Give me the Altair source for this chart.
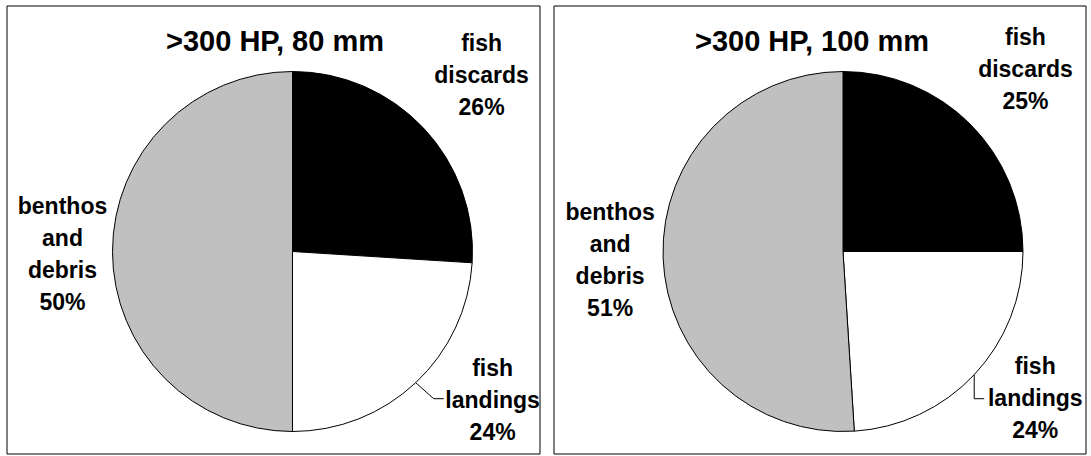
import altair as alt
import pandas as pd

# Catch composition by weight for two cod-end mesh sizes
categories = ["fish discards", "fish landings", "benthos and debris"]
share_80mm = [26, 24, 50]
share_100mm = [25, 24, 51]
label_names = ["fish\ndiscards", "fish\nlandings", "benthos\nand\ndebris"]
panel_titles = [">300 HP, 80 mm", ">300 HP, 100 mm"]
slice_colors = ["#000000", "#ffffff", "#c0c0c0"]

PIE_R = 180
FONT = "Liberation Sans"
LABEL_SIZE = 23
LINE_H = 32
TITLE_SIZE = 29
TOTAL_W = 1079
TOTAL_H = 448

# Per-panel placement: frame, pie centre, title anchor, label radius/nudges, leader elbow
layouts = [
    {
        "frame": (0, 533),
        "center": (285.5, 245.5),
        "title": (268, 36),
        "labels": [(258, 1, 1), (250, 29, -33), (230, 0, 3)],
        "leader": (18, 16, 10),
    },
    {
        "frame": (547, 1079),
        "center": (836, 245.5),
        "title": (805, 36),
        "labels": [(258, 0, 1), (250, 10, -24), (233, 0, 2)],
        "leader": (0, 24, 10),
    },
]


def panel(values, title, layout):
    labels = [f"{n}\n{v}%" for n, v in zip(label_names, values)]
    df = pd.DataFrame({
        "cat": categories,
        "value": values,
        "order": list(range(len(categories))),
        "label": labels,
    })
    base = alt.Chart(df)
    cx, cy = layout["center"]

    fx0, fx1 = layout["frame"]
    frame = alt.Chart(pd.DataFrame({"t": [title]})).mark_rect(
        fill="white", stroke="black", strokeWidth=1
    ).encode(x=alt.value(fx0), x2=alt.value(fx1), y=alt.value(0), y2=alt.value(TOTAL_H))

    arcs = base.mark_arc(radius=PIE_R, stroke="black", strokeWidth=1).encode(
        theta=alt.Theta("value:Q", stack=True),
        color=alt.Color("cat:N", scale=alt.Scale(domain=categories, range=slice_colors), legend=None),
        order=alt.Order("order:Q"),
        x=alt.value(cx),
        y=alt.value(cy),
    )

    # mid-angle of every slice (radians, clockwise from 12 o'clock)
    polar = (
        base.transform_joinaggregate(total="sum(value)")
        .transform_window(cum="sum(value)", sort=[alt.SortField("order")], frame=[None, 0])
        .transform_calculate(mid="2 * PI * (datum.cum - datum.value / 2) / datum.total")
    )

    layers = [frame, arcs]
    for cat, text, (r, dx, dy) in zip(categories, labels, layout["labels"]):
        # centre the multi-line block on its anchor
        n_lines = text.count("\n") + 1
        shift = -(n_lines - 1) * LINE_H / 2
        layers.append(
            polar.transform_filter(alt.datum.cat == cat).mark_text(
                radius=r, dx=dx, dy=dy + shift, font=FONT, fontSize=LABEL_SIZE, fontWeight="bold",
                lineBreak="\n", lineHeight=LINE_H, align="center", baseline="middle", color="black",
            ).encode(
                theta=alt.Theta("mid:Q", scale=None),
                x=alt.value(cx),
                y=alt.value(cy),
                text="label:N",
            )
        )

    # leader line from the landings slice edge to its label
    ax, ay, hlen = layout["leader"]
    lead = (
        polar.transform_calculate(
            lx=f"{cx} + {PIE_R} * sin(datum.mid)",
            ly=f"{cy} - {PIE_R} * cos(datum.mid)",
        )
        .transform_calculate(ex=f"datum.lx + {ax}", ey=f"datum.ly + {ay}")
        .transform_calculate(hx=f"datum.ex + {hlen}")
        .transform_filter(alt.datum.cat == "fish landings")
    )
    seg1 = lead.mark_rule(color="black", strokeWidth=1).encode(
        x=alt.X("lx:Q", scale=None, axis=None),
        y=alt.Y("ly:Q", scale=None, axis=None),
        x2="ex:Q",
        y2="ey:Q",
    )
    seg2 = lead.mark_rule(color="black", strokeWidth=1).encode(
        x=alt.X("ex:Q", scale=None, axis=None),
        y=alt.Y("ey:Q", scale=None, axis=None),
        x2="hx:Q",
    )
    layers += [seg1, seg2]

    tx, ty = layout["title"]
    head = alt.Chart(pd.DataFrame({"t": [title]})).mark_text(
        font=FONT, fontSize=TITLE_SIZE, fontWeight="bold", align="center", baseline="middle", color="black",
    ).encode(text="t:N", x=alt.value(tx), y=alt.value(ty))
    layers.append(head)

    return layers


layers = panel(share_80mm, panel_titles[0], layouts[0]) + panel(share_100mm, panel_titles[1], layouts[1])

chart = (
    alt.layer(*layers)
    .properties(
        width=TOTAL_W,
        height=TOTAL_H,
        padding={"left": 7, "top": 6, "right": 5, "bottom": 2},
        autosize=alt.AutoSizeParams(type="none"),
        background="white",
    )
    .configure_view(stroke=None)
)

chart.save("out.html", embed_options={"renderer": "svg", "actions": False})
